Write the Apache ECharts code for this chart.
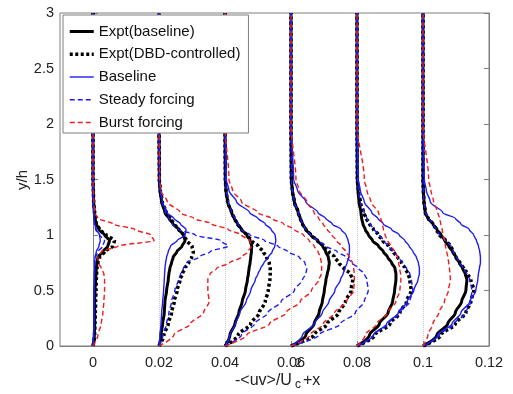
<!DOCTYPE html>
<html>
<head>
<meta charset="utf-8">
<script src="https://cdn.jsdelivr.net/npm/echarts@6/dist/echarts.min.js"></script>
<style>
  html, body { margin: 0; padding: 0; background: #fff; }
  #chart { width: 513px; height: 394px; }
</style>
</head>
<body>
<div id="chart"></div>
<script>
// station offsets (x) and tick labels
const stations = [0, 0.02, 0.04, 0.06, 0.08, 0.1];
const xTicks = [0, 0.02, 0.04, 0.06, 0.08, 0.1, 0.12];
// y/h levels shared by every profile
const yLevels = [0, 0.1, 0.2, 0.3, 0.4, 0.5, 0.6, 0.65, 0.7, 0.75, 0.8, 0.85, 0.9, 0.95, 1.0, 1.05, 1.1, 1.15, 1.2, 1.3, 1.4, 1.5, 2, 3];

// -<uv>/Uc^2 for each station (one row per station)
const exptBaseline = [
  [0, .0004, .0005, .0005, .0005, .0006, .0008, .0009, .0010, .0012, .0015, .0030, .0045, .0050, .0035, .0018, .0010, .0006, .0004, .0002, .0001, 0, 0, 0],
  [0, .0006, .0011, .0016, .0018, .0023, .0028, .0030, .0033, .0038, .0043, .0054, .0070, .0079, .0074, .0060, .0043, .0030, .0018, .0008, .0003, .0001, 0, 0],
  [0, .0015, .0030, .0042, .0052, .0062, .0068, .0071, .0073, .0076, .0078, .0080, .0081, .0076, .0066, .0050, .0038, .0028, .0020, .0008, .0003, .0001, 0, 0],
  [0, .0045, .0070, .0085, .0095, .0101, .0106, .0110, .0114, .0116, .0113, .0105, .0096, .0080, .0060, .0045, .0035, .0028, .0022, .0010, .0004, .0001, 0, 0],
  [0, .0038, .0068, .0094, .0108, .0114, .0118, .0118, .0115, .0105, .0093, .0080, .0065, .0047, .0035, .0025, .0018, .0014, .0012, .0006, .0003, .0001, 0, 0],
  [0, .0042, .0075, .0098, .0117, .0130, .0133, .0128, .0120, .0110, .0100, .0090, .0078, .0066, .0055, .0042, .0030, .0015, .0007, .0003, .0001, 0, 0, 0]
];
const exptDBD = [
  [0, .0005, .0006, .0007, .0008, .0009, .0010, .0011, .0012, .0015, .0020, .0035, .0060, .0065, .0040, .0020, .0010, .0007, .0005, .0002, .0001, 0, 0, 0],
  [0, .0015, .0028, .0038, .0046, .0055, .0064, .0071, .0079, .0090, .0099, .0104, .0100, .0084, .0074, .0060, .0046, .0033, .0022, .0010, .0004, .0001, 0, 0],
  [0, .0040, .0078, .0104, .0122, .0131, .0136, .0137, .0137, .0134, .0126, .0116, .0100, .0080, .0066, .0050, .0038, .0028, .0020, .0008, .0003, .0001, 0, 0],
  [0, .0070, .0110, .0145, .0165, .0182, .0187, .0180, .0160, .0145, .0132, .0115, .0098, .0080, .0060, .0045, .0035, .0028, .0022, .0010, .0004, .0001, 0, 0],
  [0, .0055, .0100, .0130, .0150, .0164, .0160, .0155, .0145, .0135, .0123, .0110, .0095, .0078, .0065, .0050, .0038, .0028, .0020, .0010, .0004, .0001, 0, 0],
  [0, .0055, .0098, .0130, .0145, .0154, .0145, .0135, .0123, .0112, .0100, .0092, .0085, .0068, .0050, .0040, .0030, .0016, .0007, .0003, .0001, 0, 0, 0]
];
const baseline = [
  [0, .0002, .0003, .0003, .0003, .0003, .0004, .0004, .0005, .0005, .0006, .0010, .0018, .0022, .0020, .0010, .0005, .0003, .0002, .0001, 0, 0, 0, 0],
  [0, .0003, .0006, .0008, .0011, .0014, .0016, .0017, .0018, .0020, .0023, .0028, .0035, .0055, .0079, .0082, .0065, .0045, .0025, .0010, .0004, .0001, 0, 0],
  [0, .0015, .0032, .0045, .0064, .0078, .0092, .0100, .0108, .0118, .0131, .0143, .0151, .0154, .0152, .0140, .0122, .0100, .0075, .0035, .0012, .0004, 0, 0],
  [0, .0035, .0070, .0095, .0115, .0133, .0150, .0158, .0164, .0170, .0175, .0177, .0177, .0173, .0167, .0152, .0125, .0105, .0082, .0045, .0020, .0008, 0, 0],
  [0, .0050, .0090, .0125, .0152, .0172, .0185, .0189, .0189, .0186, .0180, .0170, .0158, .0145, .0128, .0105, .0080, .0063, .0045, .0022, .0010, .0004, 0, 0],
  [0, .0045, .0088, .0115, .0142, .0160, .0166, .0168, .0171, .0174, .0174, .0172, .0168, .0162, .0154, .0140, .0115, .0098, .0060, .0022, .0010, .0004, 0, 0]
];
const steadyForcing = [
  [0, .0002, .0003, .0003, .0003, .0004, .0004, .0005, .0005, .0006, .0008, .0015, .0030, .0035, .0020, .0008, .0004, .0003, .0002, .0001, 0, 0, 0, 0],
  [0, .0012, .0023, .0030, .0038, .0048, .0059, .0066, .0074, .0084, .0120, .0155, .0210, .0185, .0110, .0060, .0040, .0030, .0020, .0010, .0004, .0001, 0, 0],
  [0, .0050, .0090, .0130, .0170, .0210, .0235, .0245, .0248, .0242, .0225, .0190, .0160, .0120, .0076, .0050, .0040, .0030, .0020, .0010, .0004, .0001, 0, 0],
  [0, .0085, .0150, .0195, .0222, .0234, .0230, .0222, .0205, .0185, .0167, .0140, .0106, .0080, .0060, .0045, .0035, .0028, .0022, .0010, .0004, .0001, 0, 0],
  [0, .0050, .0095, .0130, .0160, .0169, .0165, .0160, .0150, .0138, .0125, .0110, .0095, .0080, .0068, .0052, .0040, .0030, .0022, .0010, .0004, .0001, 0, 0],
  [0, .0050, .0095, .0130, .0145, .0148, .0142, .0133, .0122, .0112, .0102, .0092, .0085, .0068, .0050, .0040, .0030, .0018, .0008, .0003, .0001, 0, 0, 0]
];
const burstForcing = [
  [0, .0015, .0025, .0030, .0033, .0035, .0035, .0033, .0025, .0016, .0015, .0025, .0076, .0185, .0175, .0126, .0060, .0015, .0005, .0003, .0001, 0, 0, 0],
  [0, .0045, .0095, .0135, .0152, .0148, .0148, .0155, .0175, .0214, .0250, .0270, .0280, .0275, .0250, .0210, .0160, .0105, .0065, .0025, .0006, .0002, 0, 0],
  [0, .0066, .0135, .0185, .0228, .0262, .0285, .0292, .0293, .0292, .0289, .0282, .0270, .0255, .0238, .0210, .0178, .0140, .0100, .0050, .0023, .0012, 0, 0],
  [0, .0058, .0098, .0132, .0168, .0190, .0192, .0192, .0190, .0186, .0178, .0166, .0153, .0138, .0124, .0110, .0097, .0084, .0070, .0048, .0025, .0015, 0, 0],
  [0, .0025, .0060, .0093, .0118, .0130, .0133, .0132, .0129, .0126, .0122, .0115, .0103, .0093, .0085, .0080, .0077, .0072, .0065, .0042, .0030, .0022, 0, 0],
  [0, .0015, .0030, .0048, .0065, .0077, .0083, .0082, .0080, .0078, .0075, .0072, .0068, .0065, .0061, .0058, .0054, .0050, .0045, .0032, .0024, .0017, 0, 0]
];

const font = 'Liberation Sans, Arial, sans-serif';
const kinds = [
  { name: 'Expt(baseline)', data: exptBaseline, color: '#000000', width: 3, type: 'solid' },
  { name: 'Expt(DBD-controlled)', data: exptDBD, color: '#000000', width: 3.5, type: [3, 2.5] },
  { name: 'Baseline', data: baseline, color: '#1c1cf5', width: 1.4, type: 'solid' },
  { name: 'Steady forcing', data: steadyForcing, color: '#1c1cf5', width: 1.4, type: [5, 3] },
  { name: 'Burst forcing', data: burstForcing, color: '#ee1d1d', width: 1.4, type: [5, 3] }
];

const series = [];
kinds.forEach(k => {
  stations.forEach((x0, s) => {
    series.push({
      name: k.name,
      type: 'line',
      symbol: 'none',
      smooth: 0.3,
      smoothMonotone: 'y',
      silent: true,
      data: yLevels.map((y, i) => [x0 + k.data[s][i], y]),
      lineStyle: { color: k.color, width: k.width, type: k.type },
      itemStyle: { color: k.color }
    });
  });
});

const chart = echarts.init(document.getElementById('chart'));
const option = {
  backgroundColor: '#fff',
  animation: false,
  textStyle: { fontFamily: font },
  grid: { left: 60, top: 13, right: 24, bottom: 48, show: true, borderColor: '#7f7f7f', borderWidth: 1 },
  legend: {
    data: kinds.map(k => k.name),
    orient: 'vertical',
    left: 63,
    top: 15,
    padding: [9, 8, 3, 5],
    itemWidth: 24,
    itemHeight: 14,
    itemGap: 7.75,
    backgroundColor: '#fff',
    borderColor: '#7f7f7f',
    borderWidth: 1,
    itemStyle: { color: 'rgba(0,0,0,0)', borderWidth: 0, opacity: 0 },
    lineStyle: { width: 'inherit' },
    textStyle: { fontFamily: font, fontSize: 15, color: '#111' }
  },
  xAxis: {
    type: 'value',
    min: -0.01,
    max: 0.12,
    axisLine: { lineStyle: { color: '#7f7f7f' } },
    axisTick: { inside: true, length: 5, customValues: xTicks, lineStyle: { color: '#7f7f7f' } },
    axisLabel: { customValues: xTicks, margin: 9, fontSize: 14.5, color: '#222', fontFamily: font },
    splitLine: { show: true, lineStyle: { type: 'dotted', color: '#c8c8c8', width: 1 } }
  },
  yAxis: [{
    type: 'value',
    min: 0,
    max: 3,
    interval: 0.5,
    axisLine: { show: true, lineStyle: { color: '#7f7f7f' } },
    axisTick: { show: true, inside: true, length: 5, lineStyle: { color: '#7f7f7f' } },
    axisLabel: { margin: 6, fontSize: 14.5, color: '#222', fontFamily: font },
    splitLine: { show: false }
  }, {
    type: 'value',
    position: 'right',
    min: 0,
    max: 3,
    interval: 0.5,
    axisLine: { show: true, lineStyle: { color: '#7f7f7f' } },
    axisTick: { show: true, inside: true, length: 5, lineStyle: { color: '#7f7f7f' } },
    axisLabel: { show: false },
    splitLine: { show: false }
  }],
  graphic: [{
    type: 'text',
    x: 23,
    y: 180,
    rotation: Math.PI / 2,
    style: { text: 'y/h', font: '15px ' + font, fill: '#222', align: 'center', verticalAlign: 'middle' }
  }, {
    type: 'group',
    left: 235,
    top: 358,
    children: [
      { type: 'text', x: 0, y: 16, style: { text: '-<uv>/U', font: '16px ' + font, fill: '#222' } },
      { type: 'text', x: 60, y: 1, style: { text: '2', font: '12px ' + font, fill: '#222' } },
      { type: 'text', x: 60, y: 22, style: { text: 'c', font: '12px ' + font, fill: '#222' } },
      { type: 'text', x: 68, y: 16, style: { text: '+x', font: '16px ' + font, fill: '#222' } }
    ]
  }],
  series: series
};
chart.setOption(option);
</script>
</body>
</html>
